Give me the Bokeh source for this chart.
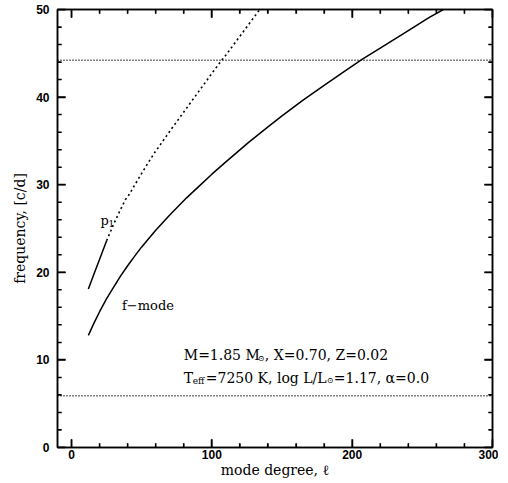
from bokeh.plotting import figure
from bokeh.models import Range1d, LinearAxis, FixedTicker, Label, Span
from bokeh.embed import file_html
from bokeh.resources import INLINE

# ---- data ----
fmode_l = [12, 16, 20, 25, 30, 35, 40, 45, 50, 60, 70, 82, 90, 100, 110, 126, 140, 150,
           165, 180, 195, 207, 220, 240, 255, 265, 275]
fmode_nu = [12.8, 14.2, 15.5, 17.0, 18.3, 19.6, 20.75, 21.85, 22.9, 24.8, 26.55, 28.5, 29.7,
            31.2, 32.6, 34.8, 36.6, 37.85, 39.65, 41.35, 43.0, 44.3, 45.6, 47.6, 49.1, 50.0, 51.0]

p1_solid_l = [12, 16, 20, 25]
p1_solid_nu = [18.1, 19.8, 21.5, 23.6]

p1_dot_l = [25, 30, 35, 38.4, 40, 45, 50, 55, 60, 61, 70, 80, 90, 100, 107, 110, 120, 130, 136]
p1_dot_nu = [23.6, 25.5, 27.2, 28.3, 28.6, 29.95, 31.3, 32.6, 33.85, 34.05, 36.1, 38.3, 40.5,
             42.7, 44.2, 44.8, 46.95, 49.1, 50.4]

hline_nu = [44.2, 5.9]

x_lim = (-10, 300)
y_lim = (0, 50)
x_major = [0, 100, 200, 300]
x_minor = [v for v in range(0, 301, 20) if v not in x_major]
y_major = [0, 10, 20, 30, 40, 50]
y_minor = [v for v in range(0, 51, 2) if v not in y_major]

SERIF = "DejaVu Serif"
SANS = "Liberation Sans"

p = figure(width=498, height=480, x_range=Range1d(*x_lim), y_range=Range1d(*y_lim),
           output_backend="svg", toolbar_location=None,
           min_border_left=57, min_border_right=6, min_border_top=9, min_border_bottom=33)
p.grid.visible = False
p.outline_line_color = "black"
p.outline_line_width = 1.5
p.background_fill_color = "white"
p.border_fill_color = "white"

xt = FixedTicker(ticks=x_major, minor_ticks=x_minor)
yt = FixedTicker(ticks=y_major, minor_ticks=y_minor)

def style(ax, labels=True):
    ax.axis_line_color = "black"
    ax.axis_line_width = 1.5
    ax.major_tick_line_color = "black"
    ax.minor_tick_line_color = "black"
    ax.major_tick_line_width = 1.5
    ax.minor_tick_line_width = 1.2
    ax.major_tick_in = 8
    ax.major_tick_out = 0
    ax.minor_tick_in = 4
    ax.minor_tick_out = 0
    if labels:
        ax.major_label_text_font = SANS
        ax.major_label_text_font_size = "12px"
        ax.major_label_text_font_style = "bold"
        ax.major_label_text_color = "black"
        ax.axis_label_text_font = SERIF
        ax.axis_label_text_font_size = "14px"
        ax.axis_label_text_font_style = "normal"
        ax.axis_label_text_color = "black"

xa = p.xaxis[0]
xa.ticker = xt
style(xa)
xa.axis_label = "mode degree, ℓ"
xa.major_label_standoff = 2
xa.axis_label_standoff = 0

ya = p.yaxis[0]
ya.ticker = yt
style(ya)
ya.axis_label = "frequency, [c/d]"
ya.major_label_standoff = 8
ya.axis_label_standoff = 5

top = LinearAxis(ticker=xt)
style(top, labels=False)
top.major_label_overrides = {t: "" for t in x_major}
top.major_label_text_color = None
top.major_label_standoff = 0
p.add_layout(top, "above")

right = LinearAxis(ticker=yt)
style(right, labels=False)
right.major_label_overrides = {t: "" for t in y_major}
right.major_label_text_color = None
right.major_label_standoff = 0
p.add_layout(right, "right")

# inward ticks on all four sides as one broken polyline (NaN separates the ticks)
nan = float("nan")
mx, nx = 0.95, 0.48      # length (data units) of x-axis ticks
my, ny = 5.8, 2.9        # length (data units) of y-axis ticks
x0, x1 = x_lim
y0, y1 = y_lim
tick_x, tick_y = [], []
for ticks, ln in ((x_major, mx), (x_minor, nx)):
    for t in ticks:
        tick_x += [t, t, nan, t, t, nan]
        tick_y += [y0, y0 + ln, nan, y1, y1 - ln, nan]
for ticks, ln in ((y_major, my), (y_minor, ny)):
    for t in ticks:
        tick_x += [x0, x0 + ln, nan, x1, x1 - ln, nan]
        tick_y += [t, t, nan, t, t, nan]
p.line(tick_x, tick_y, line_color="black", line_width=1.5)

for nu in hline_nu:
    p.add_layout(Span(location=nu, dimension="width", line_color="black",
                      line_width=1.4, line_dash="1 2"))

p.line(fmode_l, fmode_nu, line_color="black", line_width=1.5)
p.line(p1_solid_l, p1_solid_nu, line_color="black", line_width=1.5)
p.line(p1_dot_l, p1_dot_nu, line_color="black", line_width=1.6, line_dash="2 3")

def lab(x, y, text, dx=0, dy=0, size="13px"):
    p.add_layout(Label(x=x, y=y, text=text, x_offset=dx, y_offset=dy,
                       text_font=SERIF, text_font_size=size, text_color="black",
                       text_baseline="alphabetic", text_align="left"))

# curve labels
lab(20.6, 25.9, "p")
lab(20.6, 25.9, "1", dx=8, dy=-3, size="9px")
lab(36.0, 16.2, "f−mode")

# model annotation
lab(80, 10.54, "M=1.85 M", size="14px")
lab(80, 10.54, "⊙", dx=74, dy=-3, size="8px")
lab(80, 10.54, ", X=0.70, Z=0.02", dx=81, size="14px")

lab(80, 7.94, "T", size="14px")
lab(80, 7.94, "eff", dx=9, dy=-3, size="9px")
lab(80, 7.94, "=7250 K, log L/L", dx=22, size="14px")
lab(80, 7.94, "⊙", dx=143, dy=-3, size="8px")
lab(80, 7.94, "=1.17, α=0.0", dx=150, size="14px")

open("out.html", "w").write(file_html(p, INLINE))
